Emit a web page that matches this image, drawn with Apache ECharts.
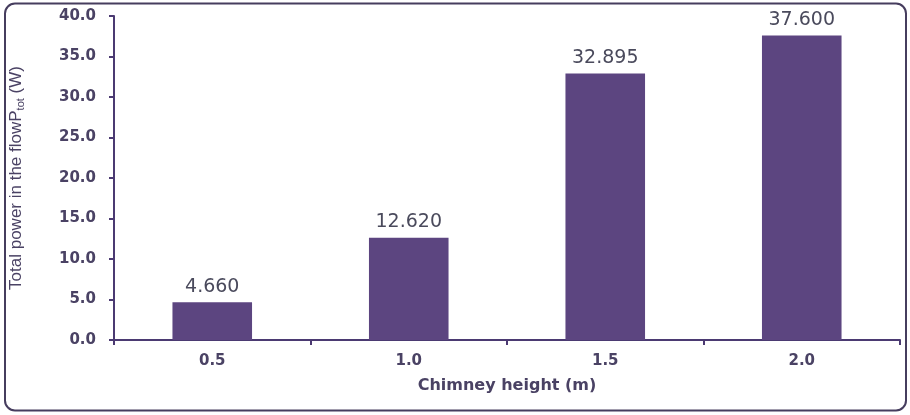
<!DOCTYPE html>
<html>
<head>
<meta charset="utf-8">
<script src="https://cdn.jsdelivr.net/npm/echarts@6/dist/echarts.min.js"></script>
<style>
  html, body { margin: 0; padding: 0; background: #ffffff; }
  #chart { width: 910px; height: 415px; }
</style>
</head>
<body>
<div id="chart"></div>
<script>
// Chimney height categories (m) and total flow power (W)
const categories = ['0.5', '1.0', '1.5', '2.0'];
const powerValues = [4.660, 12.620, 32.895, 37.600];
const yTicks = { min: 0, max: 40, interval: 5 };

const barColor = '#5c4580';
const axisColor = '#4b3a72';
const textColor = '#4a4264';
const wideFont = 'DejaVu Sans, Verdana, sans-serif';

const chart = echarts.init(document.getElementById('chart'), null, { renderer: 'canvas' });

chart.setOption({
  animation: false,
  backgroundColor: '#ffffff',
  graphic: [{
    type: 'rect',
    shape: { x: 5, y: 3.5, width: 901, height: 407, r: 10 },
    style: { fill: 'none', stroke: '#463d5e', lineWidth: 2 },
    z: 0
  }],
  grid: { left: 110, right: 10, top: 16, bottom: 75, containLabel: false },
  xAxis: {
    type: 'category',
    data: categories,
    name: 'Chimney height (m)',
    nameLocation: 'middle',
    nameGap: 38,
    nameTextStyle: { fontFamily: wideFont, fontSize: 16, fontWeight: 'bold', color: textColor },
    axisLine: { lineStyle: { color: axisColor, width: 2 } },
    axisTick: { show: true, length: 5, lineStyle: { color: axisColor, width: 2 } },
    axisLabel: { fontFamily: wideFont, fontSize: 15, fontWeight: 'bold', color: textColor, margin: 14 }
  },
  yAxis: {
    type: 'value',
    min: yTicks.min,
    max: yTicks.max,
    interval: yTicks.interval,
    name: '{n|Total power in the flowP}{s|tot}{n| (W)}',
    nameLocation: 'middle',
    nameRotate: 90,
    nameGap: 88,
    nameTextStyle: {
      rich: {
        n: { fontFamily: 'Liberation Sans, Arial', fontSize: 17, color: textColor },
        s: { fontFamily: 'Liberation Sans, Arial', fontSize: 11, color: textColor, verticalAlign: 'bottom', padding: [8, 0, 0, 0] }
      }
    },
    splitLine: { show: false },
    axisLine: { show: true, lineStyle: { color: axisColor, width: 2 } },
    axisTick: { show: true, length: 5, lineStyle: { color: axisColor, width: 2 } },
    axisLabel: {
      fontFamily: wideFont, fontSize: 15, fontWeight: 'bold', color: textColor, margin: 18,
      formatter: v => v.toFixed(1)
    }
  },
  series: [{
    type: 'bar',
    data: powerValues,
    barWidth: '40.5%',
    itemStyle: { color: barColor },
    label: {
      show: true,
      position: 'top',
      distance: 6,
      fontFamily: wideFont,
      fontSize: 19,
      color: '#4a4a5c',
      formatter: p => p.value.toFixed(3)
    }
  }]
});
</script>
</body>
</html>
